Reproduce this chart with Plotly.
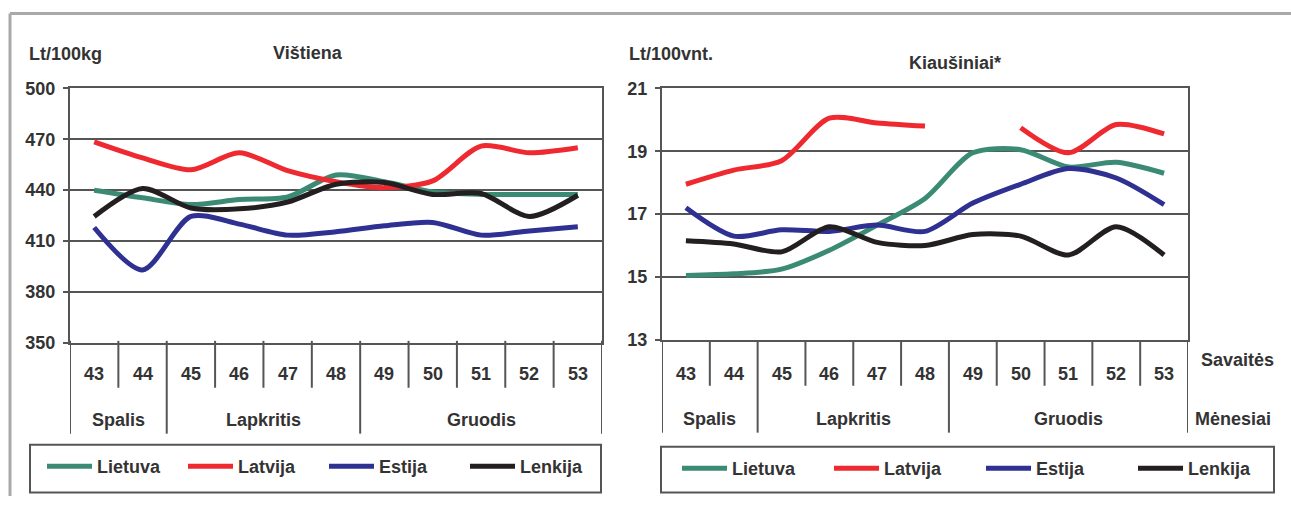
import plotly.graph_objects as go

weeks = [43, 44, 45, 46, 47, 48, 49, 50, 51, 52, 53]
months = ["Spalis", "Lapkritis", "Gruodis"]
month_weeks = [2, 4, 5]  # how many weeks fall in each month

# Vištiena, Lt/100kg
chicken_lt = [440, 435.5, 431.5, 434.5, 436, 449, 445, 439, 437.5, 437.5, 437.5]
chicken_lv = [468.5, 459, 452, 462, 451.5, 445, 441.5, 445.5, 466, 462, 465]
chicken_ee = [418, 393, 424.5, 420, 413.5, 415.5, 419, 421, 413.5, 416, 418.5]
chicken_pl = [424.5, 441, 429.5, 429, 433, 443.5, 444.5, 437.5, 438, 424.5, 437]

# Kiaušiniai, Lt/100vnt.
eggs_lt = [15.05, 15.1, 15.25, 15.85, 16.65, 17.5, 18.95, 19.05, 18.5, 18.65, 18.3]
eggs_lv = [17.95, 18.4, 18.7, 20.05, 19.9, 19.8, None, 19.75, 18.95, 19.85, 19.55]
eggs_ee = [17.2, 16.3, 16.5, 16.45, 16.65, 16.45, 17.35, 17.95, 18.45, 18.15, 17.3]
eggs_pl = [16.15, 16.05, 15.8, 16.6, 16.1, 16.0, 16.35, 16.3, 15.7, 16.6, 15.7]

countries = ["Lietuva", "Latvija", "Estija", "Lenkija"]
colors = ["#3b8b74", "#ee2a30", "#2f3192", "#231f20"]

W, H = 1291, 506
FONT = "Liberation Sans Narrow, Arial Narrow, Liberation Sans, Arial"
TXT = "#333333"
EDGE = "#555555"

# the photographed page comes out slightly squeezed vertically,
# so rows are mapped back before turning them into paper fractions
Y_OFF, Y_SCALE = 8.45, 0.9625


def py(p):
    # picture row -> paper y
    return 1 - (p - Y_OFF) / Y_SCALE / H


def px_(p):
    return p / W


fig = go.Figure()
idx = list(range(len(weeks)))

for name, col, ys in zip(countries, colors, [chicken_lt, chicken_lv, chicken_ee, chicken_pl]):
    fig.add_trace(go.Scatter(x=idx, y=ys, name=name, mode="lines",
                             line=dict(color=col, width=5, shape="spline", smoothing=0.8),
                             xaxis="x", yaxis="y", legend="legend"))
for name, col, ys in zip(countries, colors, [eggs_lt, eggs_lv, eggs_ee, eggs_pl]):
    fig.add_trace(go.Scatter(x=idx, y=ys, name=name, mode="lines", connectgaps=False,
                             line=dict(color=col, width=5, shape="spline", smoothing=0.8),
                             xaxis="x2", yaxis="y2", legend="legend2"))

xcommon = dict(range=[-0.5, len(weeks) - 0.5], showticklabels=False, showgrid=False,
               zeroline=False, showline=True, mirror=True, linecolor=EDGE, linewidth=2,
               ticks="")
ycommon = dict(showgrid=True, gridcolor=EDGE, gridwidth=2, zeroline=False,
               showline=True, mirror=True, linecolor=EDGE, linewidth=2,
               ticks="outside", ticklen=5, tickwidth=2, tickcolor=EDGE,
               ticklabelstandoff=4,
               tickfont=dict(family=FONT, size=18, color=TXT, weight="bold"))

fig.update_layout(
    width=W, height=H, margin=dict(l=0, r=0, t=0, b=0),
    paper_bgcolor="white", plot_bgcolor="white",
    xaxis=dict(domain=[px_(70), px_(602)], anchor="y", **xcommon),
    yaxis=dict(domain=[py(342), py(87)], anchor="x", range=[350, 500], tick0=350, dtick=30, **ycommon),
    xaxis2=dict(domain=[px_(662), px_(1188)], anchor="y2", **xcommon),
    yaxis2=dict(domain=[py(339), py(87)], anchor="x2", range=[13, 21], tick0=13, dtick=2, **ycommon),
    legend=dict(orientation="h", x=px_(42), y=py(466), xanchor="left", yanchor="middle",
                itemwidth=45, entrywidth=81, borderwidth=0, bgcolor="rgba(0,0,0,0)",
                font=dict(family=FONT, size=18, color=TXT, weight="bold"),
                itemclick=False, itemdoubleclick=False),
    legend2=dict(orientation="h", x=px_(677), y=py(468), xanchor="left", yanchor="middle",
                 itemwidth=45, entrywidth=92, borderwidth=0, bgcolor="rgba(0,0,0,0)",
                 font=dict(family=FONT, size=18, color=TXT, weight="bold"),
                 itemclick=False, itemdoubleclick=False),
    showlegend=True,
)

shapes = []
annots = []
bold = dict(family=FONT, size=18, color=TXT, weight="bold")

# table under each chart: week row and month row
for xa, week_end, month_end, wk_y, mo_y in [("x", 387, 433, 373, 419), ("x2", 385, 432, 373, 418)]:
    month_bounds = [-0.5]
    for n in month_weeks:
        month_bounds.append(month_bounds[-1] + n)
    for i in range(len(weeks) - 1):
        b = i + 0.5
        if b in month_bounds:
            continue
        shapes.append(dict(type="line", xref=xa, yref="paper", x0=b, x1=b,
                           y0=py(340), y1=py(week_end), line=dict(color=EDGE, width=2)))
    for b in month_bounds:
        shapes.append(dict(type="line", xref=xa, yref="paper", x0=b, x1=b,
                           y0=py(340), y1=py(month_end), line=dict(color=EDGE, width=2)))
    for i, w in enumerate(weeks):
        annots.append(dict(x=i, y=py(wk_y), xref=xa, yref="paper", text=str(w),
                           showarrow=False, font=bold, xanchor="center", yanchor="middle"))
    for k, m in enumerate(months):
        c = (month_bounds[k] + month_bounds[k + 1]) / 2
        annots.append(dict(x=c, y=py(mo_y), xref=xa, yref="paper", text=m,
                           showarrow=False, font=bold, xanchor="center", yanchor="middle"))

# legend boxes
shapes.append(dict(type="rect", xref="paper", yref="paper", x0=px_(30), x1=px_(601),
                   y0=py(492), y1=py(444), line=dict(color=EDGE, width=2)))
shapes.append(dict(type="rect", xref="paper", yref="paper", x0=px_(661), x1=px_(1274),
                   y0=py(492), y1=py(446), line=dict(color=EDGE, width=2)))

# outer grey frame
shapes.append(dict(type="line", xref="paper", yref="paper", x0=px_(10), x1=1,
                   y0=py(12), y1=py(12), line=dict(color="#a9a9a9", width=3)))
shapes.append(dict(type="line", xref="paper", yref="paper", x0=px_(10), x1=px_(10),
                   y0=py(12), y1=0, line=dict(color="#a9a9a9", width=3)))

# titles and units
extra = [
    dict(x=px_(27), y=py(53), text="Lt/100kg", xanchor="left"),
    dict(x=px_(308), y=py(52), text="Vištiena", xanchor="center"),
    dict(x=px_(627), y=py(53), text="Lt/100vnt.", xanchor="left"),
    dict(x=px_(955), y=py(62), text="Kiaušiniai*", xanchor="center"),
    dict(x=px_(1237), y=py(359), text="Savaitės", xanchor="center"),
    dict(x=px_(1233), y=py(418), text="Mėnesiai", xanchor="center"),
]
for a in extra:
    a.update(xref="paper", yref="paper", showarrow=False, font=bold, yanchor="middle")
annots += extra

fig.update_layout(shapes=shapes, annotations=annots)

# page without margins or scrollbars; the figure fills the window exactly
fit_page = """
document.documentElement.style.margin = '0';
document.body.style.margin = '0';
document.documentElement.style.overflow = 'hidden';
document.body.style.overflow = 'hidden';
var gd = document.getElementById('{plot_id}');
gd.style.width = window.innerWidth + 'px';
gd.style.height = window.innerHeight + 'px';
Plotly.relayout(gd, {width: window.innerWidth, height: window.innerHeight});
"""
fig.write_html("out.html", config={"displayModeBar": False}, post_script=fit_page)
